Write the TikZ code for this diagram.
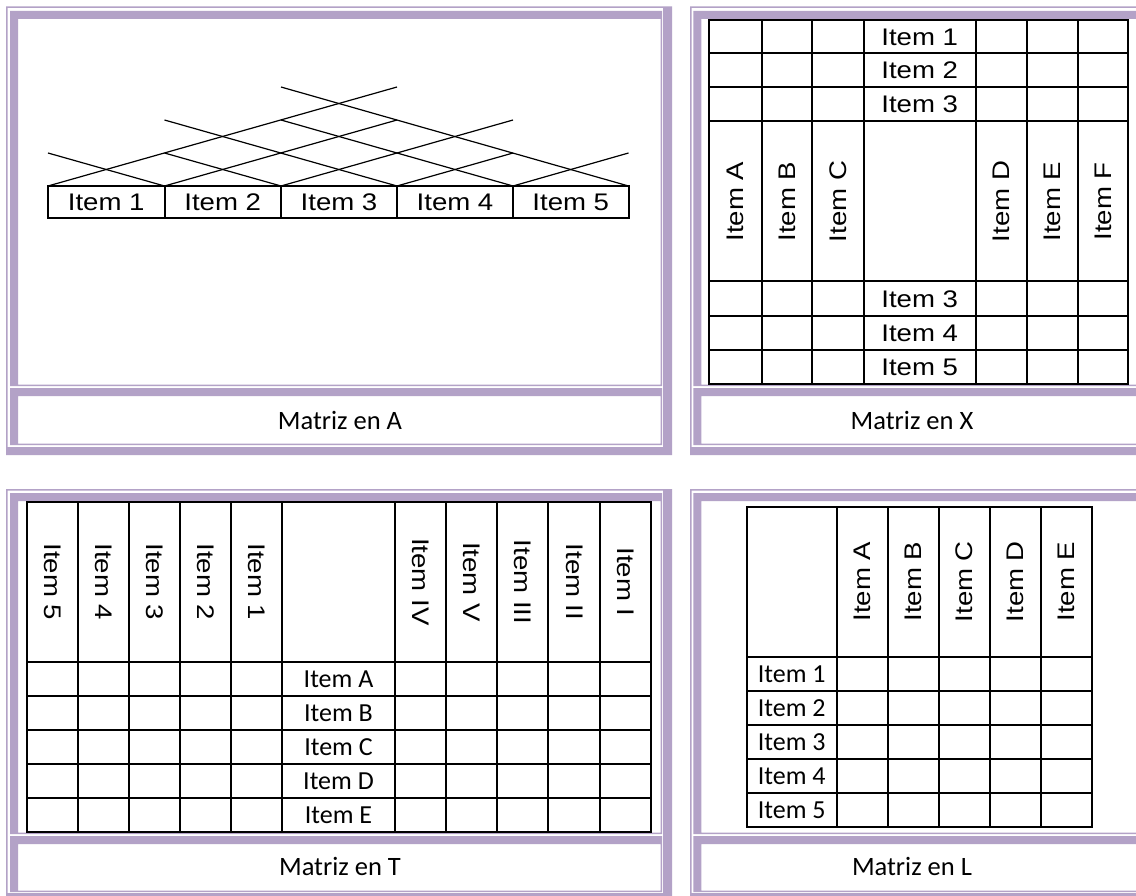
\documentclass[tikz,border=0pt]{standalone}
\usepackage{fontspec}
\setmainfont{Liberation Sans}
\newfontfamily\arialwide[FakeStretch=1.15]{Liberation Sans}
\newfontfamily\calibrifont{Carlito}
\definecolor{framepurple}{RGB}{179,162,199}
\tikzset{
  gridline/.style={line width=2pt,line cap=rect},
  lattice/.style={line width=1.2pt},
  artext/.style={inner sep=0pt,font=\arialwide\fontsize{24}{28}\selectfont},
  caltext/.style={inner sep=0pt,font=\calibrifont\fontsize{26}{30}\selectfont},
  captext/.style={inner sep=0pt,font=\calibrifont\fontsize{26.5}{30}\selectfont},
  abox/.style={draw,line width=2pt,minimum width=116.5pt,minimum height=32pt,inner sep=0pt,font=\arialwide\fontsize{24}{28}\selectfont},
  framefill/.style={fill=framepurple,even odd rule}
}
\newcommand\tableframe[4]{\fill[framefill] (#1,#2) rectangle (#3,#4) (#1+1.5,#2+1.5) rectangle (#3-9,#4-8);}
\newcommand\cellframe[4]{\fill[framefill] (#1,#2) rectangle (#3,#4) (#1+8,#2+8) rectangle (#3-1.5,#4-1.5);}
\begin{document}
\begin{tikzpicture}[x=1pt,y=-1pt]
\useasboundingbox (0,0) rectangle (1136,896);
\clip (0,0) rectangle (1136,896);
\fill[white] (0,0) rectangle (1136,896);
% ---------- frames ----------
\tableframe{6}{6.5}{672}{455}
\cellframe{10}{11}{662}{386}
\cellframe{10}{388}{662}{445}
\tableframe{690}{6.5}{1160}{455}
\cellframe{693.3}{11}{1150}{386}
\cellframe{693.3}{388}{1150}{445}
\tableframe{6}{489}{672}{901}
\cellframe{10}{493}{662}{834}
\cellframe{10}{836}{662}{892}
\tableframe{690}{489}{1160}{901}
\cellframe{693.3}{493}{1150}{834}
\cellframe{693.3}{836}{1150}{892}
% captions
\node[captext] (capA) at (340,420) {Matriz en A};
\node[captext] (capX) at (912,420) {Matriz en X};
\node[captext] (capT) at (340,866) {Matriz en T};
\node[captext] (capL) at (912,866) {Matriz en L};
% ---------- Matriz en A ----------
\draw[lattice] (48,186) -- (397,87);
\draw[lattice] (164.5,186) -- (397,120);
\draw[lattice] (281,186) -- (513,120);
\draw[lattice] (397,186) -- (513,153);
\draw[lattice] (513,186) -- (628.5,153);
\draw[lattice] (628.5,186) -- (281,87);
\draw[lattice] (513,186) -- (281,120);
\draw[lattice] (397,186) -- (164.5,120);
\draw[lattice] (281,186) -- (164.5,153);
\draw[lattice] (164.5,186) -- (48,153);
\node[abox] (a1) at (106.25,202) {Item 1};
\node[abox] (a2) at (222.75,202) {Item 2};
\node[abox] (a3) at (339,202) {Item 3};
\node[abox] (a4) at (455,202) {Item 4};
\node[abox] (a5) at (570.75,202) {Item 5};
% ---------- Matriz en X ----------
\draw[gridline] (709.3,20) rectangle (1128.3,383.5);
\foreach \x in {761.7,812.3,863.7,975.7,1027,1078.3} \draw[gridline] (\x,20) -- (\x,383.5);
\foreach \y in {53.5,87.5,121.5,281.5,316,350} \draw[gridline] (709.3,\y) -- (1128.3,\y);
\node[artext] (x1) at (919.7,37) {Item 1};
\node[artext] (x2) at (919.7,70.5) {Item 2};
\node[artext] (x3) at (919.7,104.5) {Item 3};
\node[artext] (x3b) at (919.7,299) {Item 3};
\node[artext] (x4) at (919.7,333) {Item 4};
\node[artext] (x5) at (919.7,367) {Item 5};
\node[artext,rotate=90] (xa) at (735.5,201.5) {Item A};
\node[artext,rotate=90] (xb) at (787,201.5) {Item B};
\node[artext,rotate=90] (xc) at (838,201.5) {Item C};
\node[artext,rotate=90] (xd) at (1001.3,201.5) {Item D};
\node[artext,rotate=90] (xe) at (1052.7,201.5) {Item E};
\node[artext,rotate=90] (xf) at (1103.3,201.5) {Item F};
% ---------- Matriz en T ----------
\draw[gridline] (26.7,502.3) rectangle (651,832);
\foreach \x in {77.7,129,180,231,282,395,446,497.3,548.3,600} \draw[gridline] (\x,502.3) -- (\x,832);
\foreach \y in {662,696,730,764,798} \draw[gridline] (26.7,\y) -- (651,\y);
\node[artext,rotate=-90] (t5) at (52.2,582) {Item 5};
\node[artext,rotate=-90] (t4) at (103.35,582) {Item 4};
\node[artext,rotate=-90] (t3) at (154.5,582) {Item 3};
\node[artext,rotate=-90] (t2) at (205.5,582) {Item 2};
\node[artext,rotate=-90] (t1) at (256.5,582) {Item 1};
\node[artext,rotate=-90] (tIV) at (420.5,582) {Item IV};
\node[artext,rotate=-90] (tV) at (471.65,582) {Item V};
\node[artext,rotate=-90] (tIII) at (522.8,582) {Item III};
\node[artext,rotate=-90] (tII) at (574.15,582) {Item II};
\node[artext,rotate=-90] (tI) at (625.5,582) {Item I};
\node[caltext] (tA) at (338.5,679) {Item A};
\node[caltext] (tB) at (338.5,713) {Item B};
\node[caltext] (tC) at (338.5,747) {Item C};
\node[caltext] (tD) at (338.5,781) {Item D};
\node[caltext] (tE) at (338.5,815) {Item E};
% ---------- Matriz en L ----------
\draw[gridline] (746.7,506.7) rectangle (1092.3,827);
\foreach \x in {836.7,887.7,939,990,1041} \draw[gridline] (\x,506.7) -- (\x,827);
\foreach \y in {656.7,691,725,759,793} \draw[gridline] (746.7,\y) -- (1092.3,\y);
\node[artext,rotate=90] (la) at (862.2,581.7) {Item A};
\node[artext,rotate=90] (lb) at (913.35,581.7) {Item B};
\node[artext,rotate=90] (lc) at (964.5,581.7) {Item C};
\node[artext,rotate=90] (ld) at (1015.5,581.7) {Item D};
\node[artext,rotate=90] (le) at (1066.65,581.7) {Item E};
\node[caltext] (l1) at (791.7,674) {Item 1};
\node[caltext] (l2) at (791.7,708) {Item 2};
\node[caltext] (l3) at (791.7,742) {Item 3};
\node[caltext] (l4) at (791.7,776) {Item 4};
\node[caltext] (l5) at (791.7,810) {Item 5};
\end{tikzpicture}
\end{document}
